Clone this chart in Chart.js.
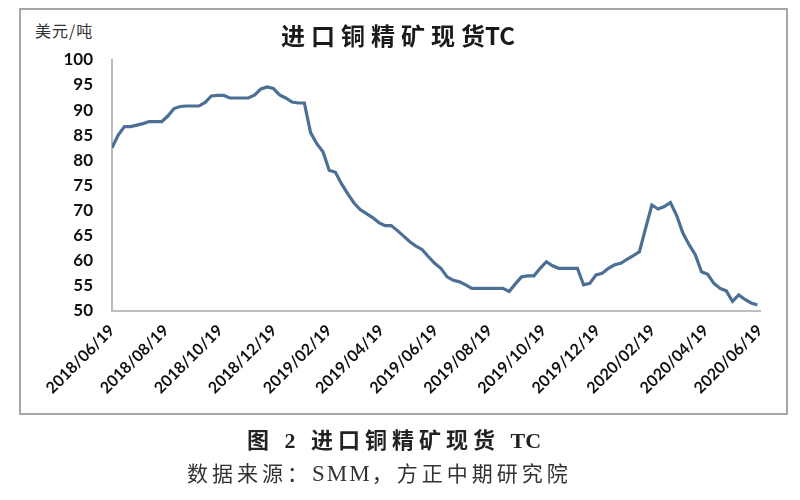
<!DOCTYPE html>
<html>
<head>
<meta charset="utf-8">
<script src="https://cdn.jsdelivr.net/npm/chart.js@4"></script>
<style>
  body { margin: 0; background: #fff; width: 800px; height: 500px; position: relative; overflow: hidden; }
  #frame { position: absolute; left: 19px; top: 8px; width: 765px; height: 403px; border: 2px solid #a6a6a6; }
  #chart { position: absolute; left: 0; top: 0; }
  .txt { position: absolute; white-space: nowrap; font-family: "Liberation Serif", "Noto Sans CJK SC", serif; }
  .lat { letter-spacing: 0; }
  #unit { left: 35px; top: 18px; font-size: 16px; letter-spacing: 1px; color: #333; font-family: "Noto Sans CJK SC", sans-serif; }
  #cap1 { left: 247px; top: 422px; font-size: 22px; letter-spacing: 5px; font-weight: bold; color: #222; }
  #cap2 { left: 187px; top: 457px; font-size: 21px; letter-spacing: 4px; color: #333; }
  #cap2 .lat { font-size: 23px; letter-spacing: 2px; }
</style>
</head>
<body>
<div id="frame"></div>
<div id="unit" class="txt">美元/吨</div>
<canvas id="chart" width="800" height="500"></canvas>
<div id="cap1" class="txt">图 2 进口铜精矿现货 <span class="lat">TC</span></div>
<div id="cap2" class="txt">数据来源：<span class="lat">SMM</span>，方正中期研究院</div>
<script>
// 周度数据，从 2018/06/19 起每周一个点
const startDate = '2018/06/19';
const tcValues = [
    82.5, 85.0, 86.7, 86.7, 87.0, 87.3, 87.7, 87.7, 87.7, 88.8,
    90.3, 90.7, 90.8, 90.8, 90.8, 91.5, 92.8, 92.9, 92.9, 92.4,
    92.4, 92.4, 92.4, 93.0, 94.2, 94.6, 94.3, 93.0, 92.4, 91.6,
    91.4, 91.4, 85.5, 83.3, 81.7, 78.0, 77.6, 75.3, 73.3, 71.5,
    70.2, 69.4, 68.6, 67.6, 67.0, 67.0, 66.0, 64.9, 63.8, 62.9,
    62.2, 60.8, 59.5, 58.5, 56.8, 56.1, 55.8, 55.2, 54.5, 54.5,
    54.5, 54.5, 54.5, 54.5, 53.9, 55.4, 56.8, 57.0, 57.0, 58.5,
    59.8, 59.0, 58.5, 58.5, 58.5, 58.5, 55.2, 55.5, 57.2, 57.5,
    58.5, 59.2, 59.5, 60.3, 61.0, 61.8, 66.5, 71.1, 70.3, 70.8,
    71.6, 69.0, 65.5, 63.2, 61.2, 57.8, 57.3, 55.5, 54.5, 54.0,
    51.9, 53.2, 52.3, 51.6, 51.2
];
const tickLabels = [
    '2018/06/19', '2018/08/19', '2018/10/19', '2018/12/19', '2019/02/19',
    '2019/04/19', '2019/06/19', '2019/08/19', '2019/10/19', '2019/12/19',
    '2020/02/19', '2020/04/19', '2020/06/19'
];

const DAY = 86400000;
const t0 = Date.parse(startDate.replace(/\//g, '-'));
const dayOf = s => Math.round((Date.parse(s.replace(/\//g, '-')) - t0) / DAY);
const tickDays = tickLabels.map(dayOf);
const points = tcValues.map((v, i) => ({ x: i * 7, y: v }));

const ctx = document.getElementById('chart').getContext('2d');
new Chart(ctx, {
    type: 'line',
    data: {
        datasets: [{
            label: '进口铜精矿现货TC',
            data: points,
            borderColor: '#4b6f95',
            borderWidth: 3.2,
            pointRadius: 0,
            tension: 0,
            fill: false
        }]
    },
    options: {
        responsive: false,
        animation: false,
        // 左边留白让标题居中在 ~398
        layout: { padding: { left: 36, right: 40, top: 0, bottom: 0 } },
        plugins: {
            legend: { display: false },
            tooltip: { enabled: false },
            title: {
                display: true,
                text: '进\u2005口\u2005铜\u2005精\u2005矿\u2005现\u2005货TC',
                color: '#1a1a1a',
                font: { family: '"Noto Sans CJK SC", sans-serif', size: 24, weight: 'bold' },
                padding: { top: 21, bottom: 10 }
            }
        },
        scales: {
            x: {
                type: 'linear',
                min: 0,
                max: tickDays[tickDays.length - 1],
                grid: { display: false, drawTicks: false },
                border: { display: true, color: '#bdbdbd', width: 2 },
                afterBuildTicks: axis => { axis.ticks = tickDays.map(v => ({ value: v })); },
                afterFit: axis => { axis.height = 189; },
                ticks: {
                    autoSkip: false,
                    minRotation: 45,
                    maxRotation: 45,
                    padding: 10,
                    color: '#111',
                    font: { family: 'Lato', size: 16, weight: 'bold' },
                    callback: (value, index) => tickLabels[index]
                }
            },
            y: {
                min: 50,
                max: 100,
                grid: { display: false, drawTicks: false },
                border: { display: true, color: '#bdbdbd', width: 2 },
                afterFit: axis => { axis.width = 76; },
                ticks: {
                    stepSize: 5,
                    padding: 19,
                    color: '#111',
                    font: { family: 'Lato', size: 17, weight: 'bold' }
                }
            }
        }
    }
});
</script>
</body>
</html>
